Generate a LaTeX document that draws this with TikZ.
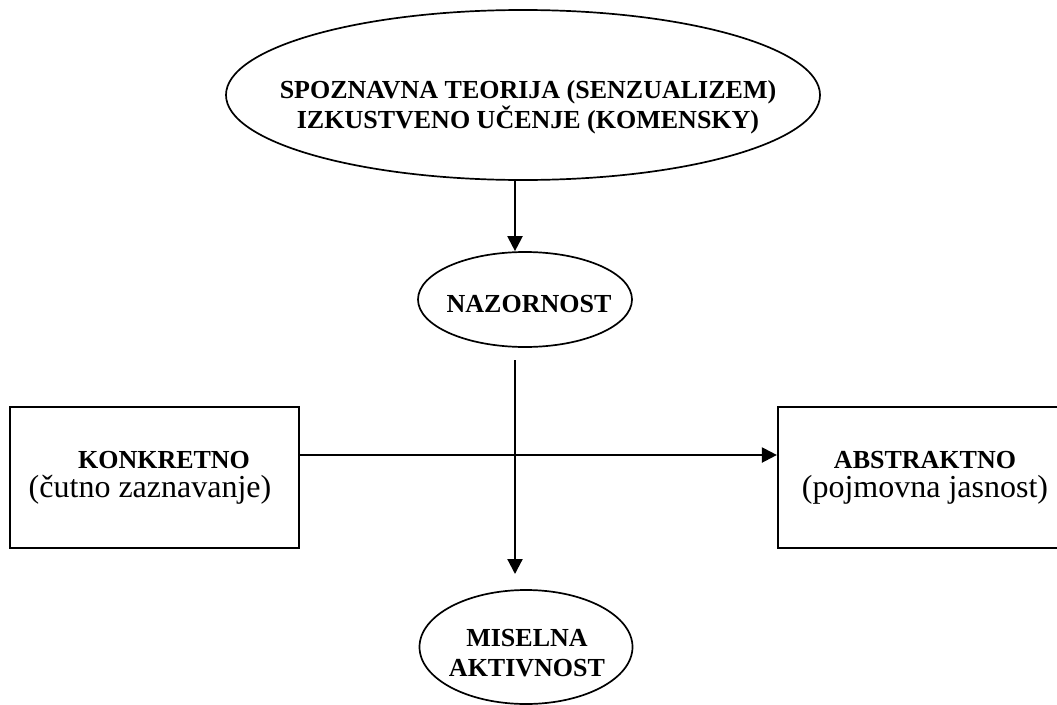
\documentclass[tikz,border=0pt]{standalone}
\usepackage{fontspec}
\setmainfont{Liberation Serif}
\usetikzlibrary{arrows.meta,shapes.geometric}
\begin{document}
\begin{tikzpicture}[x=1pt,y=-1pt,
  conn/.style={line width=2.2pt},
  arr/.style={conn,-{Triangle[length=15pt,width=15pt]}},
  oval/.style={draw,ellipse,line width=1.7pt,inner sep=0pt},
  panel/.style={draw,rectangle,line width=2.2pt,inner sep=0pt},
  head/.style={font=\bfseries\fontsize{26}{30}\selectfont,align=center,inner sep=0pt},
  sub/.style={font=\fontsize{32}{36}\selectfont,inner sep=0pt}]
\useasboundingbox (0,0) rectangle (1057,704);

% ellipses
\node[oval,minimum width=594pt,minimum height=170pt] (theory) at (523,95) {};
\node[head] (theoryT) at (528,107) {SPOZNAVNA TEORIJA (SENZUALIZEM)\\IZKUSTVENO UČENJE (KOMENSKY)};

\node[oval,minimum width=214pt,minimum height=95pt] (naz) at (525,299.5) {};
\node[head] (nazT) at (529,304) {NAZORNOST};

\node[oval,minimum width=213pt,minimum height=114pt] (mis) at (526,647) {};
\node[head] (misT) at (527,653) {MISELNA\\AKTIVNOST};

% side boxes
\node[panel,minimum width=289pt,minimum height=141pt] (konk) at (154.5,477.5) {};
\node[head] (konkT) at (164,460) {KONKRETNO};
\node[sub] (konkS) at (150,490) {(čutno zaznavanje)};

\node[panel,minimum width=294pt,minimum height=141pt] (abst) at (925,477.5) {};
\node[head] (abstT) at (925,460) {ABSTRAKTNO};
\node[sub] (abstS) at (925,490) {(pojmovna jasnost)};

% connectors
\coordinate (spine) at (515,0);
\coordinate (hline) at (0,455);
\coordinate (drop) at (515,360);
\coordinate (dropend) at (515,574);
\draw[arr] (theory.south -| spine) -- (naz.north -| spine);
\draw[arr] (drop) -- (dropend);
\draw[arr] (konk.east |- hline) -- (abst.west |- hline);
\end{tikzpicture}
\end{document}
